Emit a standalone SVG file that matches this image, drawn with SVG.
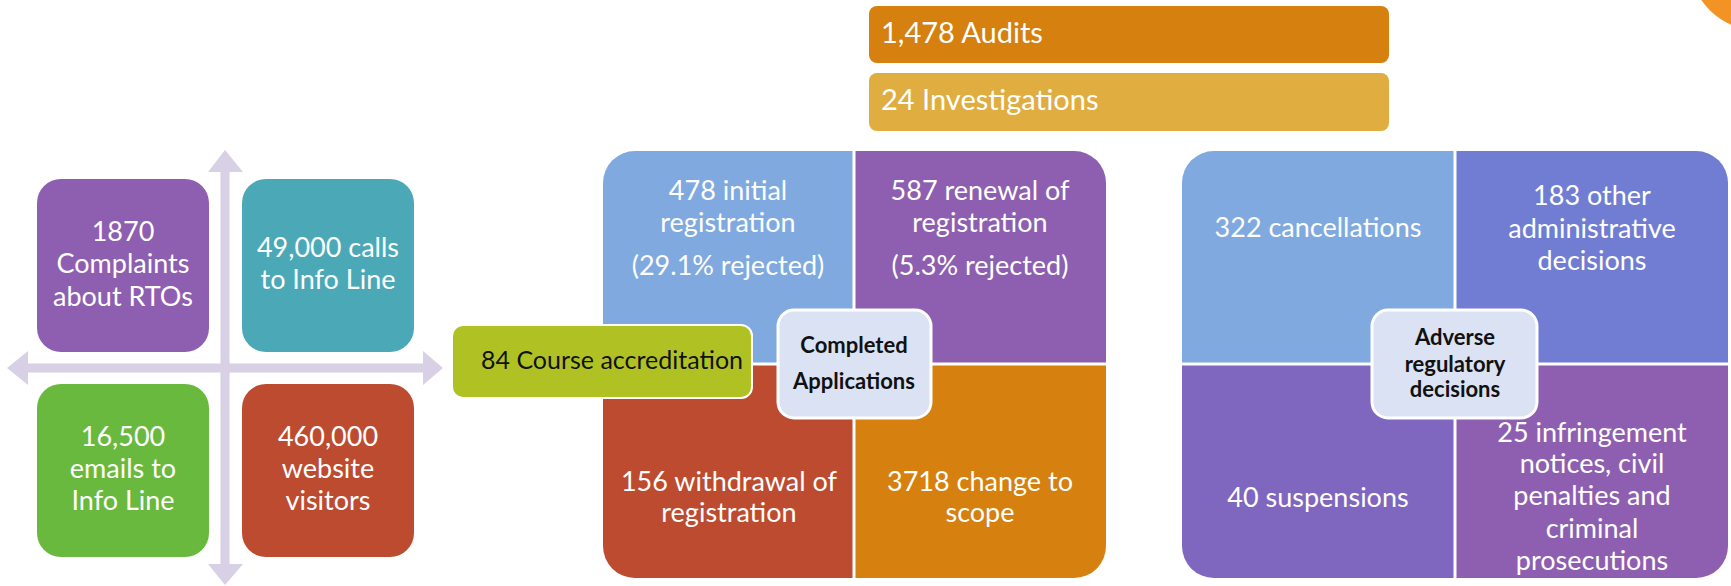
<svg xmlns="http://www.w3.org/2000/svg" width="1731" height="586" viewBox="0 0 1731 586">
<style>
text{font-family:Lato,"Open Sans","Liberation Sans",sans-serif;}
.w{fill:#ffffff;font-size:27px;text-anchor:middle;}
.bar{fill:#ffffff;font-size:29px;}
.b{fill:#111111;font-size:22px;font-weight:bold;text-anchor:middle;}
.hub{fill:#DAE2F3;stroke:#ffffff;stroke-width:3;}
.cross{fill:#D8D0E4;}
</style>
<defs>
<clipPath id="cg1"><rect x="603" y="151" width="503" height="427" rx="32"/></clipPath>
<clipPath id="cg2"><rect x="1182" y="151" width="546" height="427" rx="32"/></clipPath>
</defs>
<rect width="1731" height="586" fill="#ffffff"/>
<circle cx="1760" cy="-40" r="71" fill="#F39323"/>

<g id="connectors">
<polygon class="cross" points="225,150 243,172 229.5,172 229.5,564 243,564 225,585 208,564 220.5,564 220.5,172 208,172"/>
<polygon class="cross" points="7,368 28,351 28,363.5 423,363.5 423,351 443,368 423,385 423,372.5 28,372.5 28,385"/>
</g>

<g id="complaints">
<rect x="37" y="179" width="172" height="173" rx="24" fill="#8E5FB0"/>
<text class="w" x="123" y="241">1870</text>
<text class="w" x="123" y="273">Complaints</text>
<text class="w" x="123" y="306">about RTOs</text>
</g>
<g id="calls">
<rect x="242" y="179" width="172" height="173" rx="24" fill="#4BA9B7"/>
<text class="w" x="328" y="257">49,000 calls</text>
<text class="w" x="328" y="289">to Info Line</text>
</g>
<g id="emails">
<rect x="37" y="384" width="172" height="173" rx="24" fill="#68B93E"/>
<text class="w" x="123" y="446">16,500</text>
<text class="w" x="123" y="478">emails to</text>
<text class="w" x="123" y="510">Info Line</text>
</g>
<g id="visitors">
<rect x="242" y="384" width="172" height="173" rx="24" fill="#BC4B30"/>
<text class="w" x="328" y="446">460,000</text>
<text class="w" x="328" y="478">website</text>
<text class="w" x="328" y="510">visitors</text>
</g>

<g id="audits">
<rect x="869" y="6" width="520" height="57" rx="8" fill="#D5800F"/>
<text class="bar" x="881" y="43">1,478 Audits</text>
</g>
<g id="investigations">
<rect x="869" y="73" width="520" height="58" rx="8" fill="#E0AD40"/>
<text class="bar" x="881" y="110">24 Investigations</text>
</g>

<g clip-path="url(#cg1)">
<g id="initial-registration">
<rect x="603" y="151" width="249.5" height="211.5" fill="#7FA9DF"/>
<text class="w" x="728" y="200">478 initial</text>
<text class="w" x="728" y="232">registration</text>
<text class="w" x="728" y="275">(29.1% rejected)</text>
</g>
<g id="renewal-registration">
<rect x="855.5" y="151" width="250.5" height="211.5" fill="#8E5FB0"/>
<text class="w" x="980" y="200">587 renewal of</text>
<text class="w" x="980" y="232">registration</text>
<text class="w" x="980" y="275">(5.3% rejected)</text>
</g>
<g id="withdrawal-registration">
<rect x="603" y="365.5" width="249.5" height="212.5" fill="#BC4B30"/>
<text class="w" x="729" y="491">156 withdrawal of</text>
<text class="w" x="729" y="522">registration</text>
</g>
<g id="change-scope">
<rect x="855.5" y="365.5" width="250.5" height="212.5" fill="#D5800F"/>
<text class="w" x="980" y="491">3718 change to</text>
<text class="w" x="980" y="522">scope</text>
</g>
</g>
<g id="course-accreditation">
<rect x="452" y="325" width="300" height="73" rx="11" fill="#B0C223" stroke="#ffffff" stroke-width="2"/>
<text x="481" y="369" style="font-size:25px;fill:#111111;">84 Course accreditation</text>
</g>
<g id="completed-applications">
<rect class="hub" x="778" y="310" width="153" height="108" rx="16"/>
<text class="b" x="854" y="353">Completed</text>
<text class="b" x="854" y="389">Applications</text>
</g>

<g clip-path="url(#cg2)">
<g id="cancellations">
<rect x="1182" y="151" width="271.5" height="211.5" fill="#7FA9DF"/>
<text class="w" x="1318" y="237">322 cancellations</text>
</g>
<g id="other-admin">
<rect x="1456.5" y="151" width="271.5" height="211.5" fill="#717DD3"/>
<text class="w" x="1592" y="205">183 other</text>
<text class="w" x="1592" y="238">administrative</text>
<text class="w" x="1592" y="270">decisions</text>
</g>
<g id="suspensions">
<rect x="1182" y="365.5" width="271.5" height="212.5" fill="#7F66BF"/>
<text class="w" x="1318" y="507">40 suspensions</text>
</g>
<g id="infringements">
<rect x="1456.5" y="365.5" width="271.5" height="212.5" fill="#8E5FB0"/>
<text class="w" x="1592" y="442">25 infringement</text>
<text class="w" x="1592" y="473">notices, civil</text>
<text class="w" x="1592" y="505">penalties and</text>
<text class="w" x="1592" y="538">criminal</text>
<text class="w" x="1592" y="570">prosecutions</text>
</g>
</g>
<g id="adverse-decisions">
<rect class="hub" x="1372" y="310" width="165" height="108" rx="16"/>
<text class="b" x="1455" y="345">Adverse</text>
<text class="b" x="1455" y="372">regulatory</text>
<text class="b" x="1455" y="397">decisions</text>
</g>
</svg>
